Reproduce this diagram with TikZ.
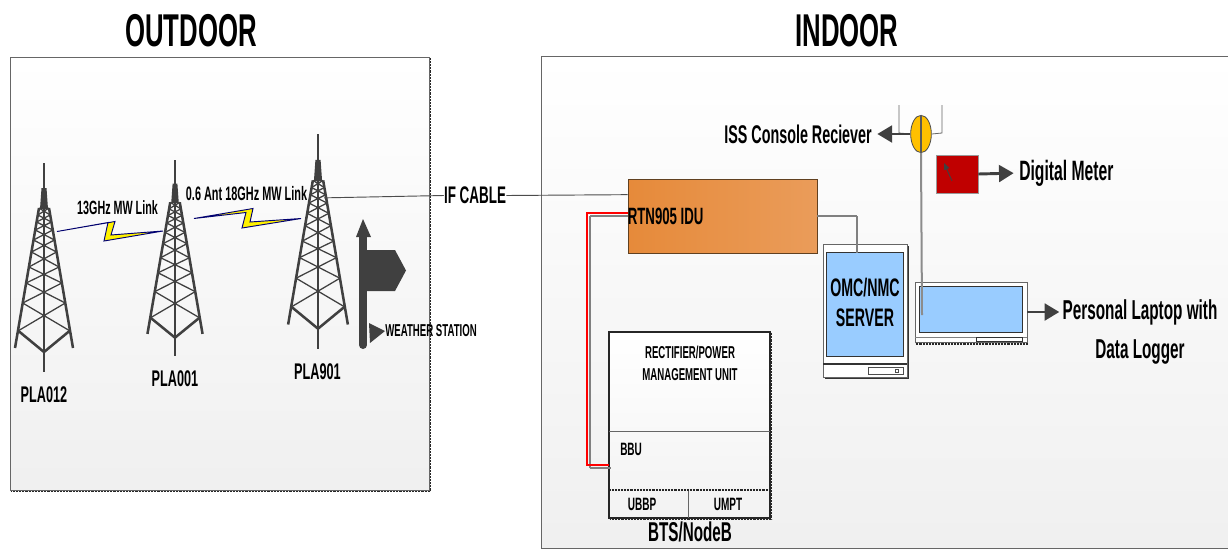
\documentclass[tikz,border=0pt]{standalone}
\usepackage{fontspec}
\setmainfont[FakeStretch=0.56]{Liberation Sans}
\usetikzlibrary{fit,arrows.meta,shapes.geometric}
\definecolor{dk}{HTML}{404040}
\definecolor{scrblue}{HTML}{99CCFF}
\definecolor{iduL}{HTML}{E68A3A}
\definecolor{iduR}{HTML}{EA9C5A}
\definecolor{amber}{HTML}{FFC000}
\definecolor{meter}{HTML}{C00000}
\definecolor{redline}{HTML}{FF0000}
\tikzset{
  x=0.75pt,y=-0.75pt,
  tx/.style={inner sep=0pt,align=center,text=black,font=\bfseries\fontsize{#1}{#1}\selectfont},
  frame/.style={inner sep=0pt,draw=#1,line width=0.6pt},
  panel/.style={frame=dk!80,top color=white,bottom color=black!6},
  dots/.style={draw=black!85,line width=1.1pt,dash pattern=on 0.7pt off 0.4pt},
  greydots/.style={draw=black!50,line width=0.8pt,dash pattern=on 1.2pt off 0.3pt},
  fatarrow/.style={draw=dk,line width=2.2pt,shorten >=4pt,-{Triangle[length=11pt,width=12.5pt,fill=dk]}},
  bolt/.style={fill=yellow,draw=blue!45!black,line width=0.7pt,line join=miter},
  tower/.pic={
    \coordinate (-port) at (6,62);
    \draw[dk,line width=1.5pt] (0,0) -- (0,209);
    \fill[dk] (-2.5,25) -- (2.5,25) -- (4,46) -- (-4,46) -- cycle;
    \draw[dk,line width=1.9pt,line join=round] (-5,45) -- (-29,185) (5,45) -- (29,185);
    \draw[dk,line width=1.9pt,line join=round] (-25.5,168) -- (0,189) -- (25.5,168);
    \foreach \a/\b in {45/52,52/59,59/67,67/77,77/89,89/104,104/120,120/140,140/168}{
      \pgfmathsetmacro\xa{5+24*(\a-45)/140}
      \pgfmathsetmacro\xb{5+24*(\b-45)/140}
      \draw[dk,line width=0.95pt] (-\xa,\a) -- (\xb,\b) (\xa,\a) -- (-\xb,\b);
    }
  }
}
\begin{document}
\begin{tikzpicture}
\useasboundingbox (0,0) rectangle (1228,550);
% panels
\node[fit={(10,57)(429,490)},panel] (outdoor) {};
\draw[dots] ([shift={(1.2,1.2)}]outdoor.north east) -- ([shift={(1.2,1.2)}]outdoor.south east) -- ([shift={(1.2,1.2)}]outdoor.south west);
\node[fit={(541,56)(1240,548)},panel] (indoor) {};
\node[tx=34.5] (ttlo) at (191,31) {OUTDOOR};
\node[tx=34.5] (ttli) at (847,31) {INDOOR};
% towers
\pic (t1) at (44,163) {tower};
\pic (t2) at (175,160) [xscale=0.95,yscale=0.94] {tower};
\pic (t3) at (318,134) [xscale=1.03,yscale=1.03] {tower};
\node[tx=17] (n1) at (44,395) {PLA012};
\node[tx=17] (n2) at (175,379) {PLA001};
\node[tx=17] (n3) at (317.5,372) {PLA901};
% links
\draw[bolt] (57,231.5) -- (115,221.5) -- (111,235) -- (163,231) -- (104,241) -- (108,222.5) -- cycle;
\draw[bolt] (194,218.5) -- (253,208.5) -- (250,222) -- (301,218.5) -- (242,228) -- (246,212.5) -- cycle;
\node[tx=14.4] (l1) at (117.5,208) {13GHz MW Link};
\node[tx=14.6] (l2) at (246.5,194) {0.6 Ant 18GHz MW Link};
% weather station
\draw[dk,line width=6pt,line cap=round] (363,237) -- (363,345);
\fill[dk] (363,219) -- (371,237) -- (356,237) -- cycle;
\fill[dk] (367,250) -- (395,250) -- (406,270.5) -- (395,291) -- (367,291) -- cycle;
\fill[dk] (369,323) -- (385,331) -- (370,343) -- cycle;
\node[tx=12.9,anchor=west] (ws) at (385,331) {WEATHER STATION};
% IDU
\node[fit={(628,179)(817,253)},frame=black!50!brown,left color=iduL,right color=iduR] (idu) {};
\node[tx=17.7,anchor=west] (idut) at (idu.west) {RTN905 IDU};
% IF cable
\node[tx=18] (ifc) at (475,195.5) {IF CABLE};
\draw[black!70,line width=0.7pt] (t3-port) -- (ifc.west);
\draw[black!70,line width=0.7pt] (ifc.east) -- ([yshift=16pt]idu.west);
% BTS
\node[fit={(609,332)(770,518)},frame=black!85,line width=0.8pt,top color=white,bottom color=black!5] (bts) {};
\draw[dots] ([shift={(1.2,1.2)}]bts.north east) -- ([shift={(1.2,1.2)}]bts.south east) -- ([shift={(1.2,1.2)}]bts.south west);
\coordinate (d1w) at (609,431); \coordinate (d1e) at (770,431);
\coordinate (d2w) at (609,490); \coordinate (d2e) at (770,490);
\coordinate (d3t) at (688,490); \coordinate (d3b) at (688,518);
\draw[black!60,line width=0.7pt] (d1w) -- (d1e);
\draw[black!60,line width=0.7pt] (d3t) -- (d3b);
\draw[dots,line width=0.9pt] (d2w) -- (d2e);
\node[tx=12.9] (rect) at (690,363) {RECTIFIER/POWER\\[3.6pt]MANAGEMENT UNIT};
\node[tx=13.4,anchor=west] (bbu) at (620,449) {BBU};
\node[tx=13.4] (ubbp) at (642,504) {UBBP};
\node[tx=13.4] (umpt) at (728,504) {UMPT};
\node[tx=20.4] (btsn) at (690,532) {BTS/NodeB};
% BTS to IDU
\coordinate (rr) at (587,465); \coordinate (gg) at (590,468);
\coordinate (re) at (609,465); \coordinate (ge) at (611,468);
\draw[greydots] (idu.west) -| (gg) -- (ge);
\draw[draw=redline,line width=0.9pt] ([yshift=2.3pt]idu.west) -| (rr) -- (re);
% server
\node[fit={(823,244)(907,377)},frame=black!60,fill=white] (srv) {};
\draw[black!80,line width=1.2pt] (825,378.5) -- (908.5,378.5) -- (908.5,246);
\node[fit={(826.5,252)(903,356)},frame=black!80,fill=scrblue] (scr) {};
\coordinate (sl) at (823,364); \coordinate (sr) at (907,364);
\draw[black!80,line width=1pt] (sl) -- (sr);
\node[fit={(868,367)(903,374)},frame=black!70,fill=white,line width=0.5pt] (slot) {};
\node[fit={(895,369)(898,372)},frame=black!70,fill=white,line width=0.5pt] (btn) {};
\node[tx=19] (omc) at (865,302.5) {OMC/NMC\\[4pt]SERVER};
% IDU to server
\coordinate (omcin) at (857,253);
\draw[greydots] (idu.east) -| (omcin);
% laptop
\node[fit={(915,282)(1027,342)},frame=black!60,fill=white] (lap) {};
\node[fit={(919,286)(1022,332)},frame=black!80,fill=scrblue] (lscr) {};
\coordinate (s1) at (915,337); \coordinate (s2) at (1027,337);
\draw[black!50,line width=0.5pt] (s1) -- (s2);
\node[fit={(976,337)(1022,341)},frame=black!80,fill=white,line width=0.5pt] (lslot) {};
\draw[dots,line width=1.4pt] (lap.south west) ++(1,2) -- ++(112,0);
% ISS splitter
\node[ellipse,inner sep=0pt,minimum width=15.5pt,minimum height=28pt,draw=black!70,fill=amber,line width=0.6pt] (spl) at (921,134) {};
\draw[black!65,line width=1.4pt] (spl.north) -- (spl.south);
\coordinate (al) at (899,105); \coordinate (ar) at (942,105);
\coordinate (bl) at (899,133); \coordinate (br) at (942,133);
\draw[black!60,line width=0.6pt] (al) -- (bl) -- (spl.west);
\draw[black!60,line width=0.6pt] (ar) -- (br) -- (spl.east);
\coordinate (lapin) at (922,315);
\draw[black!45,line width=1.5pt] (spl.south) -- (lapin);
\node[tx=19.2,anchor=east] (iss) at (872,134) {ISS Console Reciever};
\draw[fatarrow] (spl.west) -- (iss.east);
% meter
\node[fit={(936,155)(978,193)},frame=black!40,fill=meter] (mtr) {};
\coordinate (ma) at (952,181); \coordinate (mb) at (944,163);
\draw[dk,line width=0.7pt,-{Triangle[length=5pt,width=4pt]}] (ma) -- (mb);
\node[tx=21,anchor=west] (dm) at (1019,173) {Digital Meter};
\draw[fatarrow] (mtr.east) -- (dm.west);
% laptop label
\node[tx=20.5] (pl) at (1140,332) {Personal Laptop with\\[8.5pt]Data Logger};
\coordinate (plw) at (1062,312);
\draw[fatarrow,shorten >=2pt] (lap.east |- plw) -- (plw);
\end{tikzpicture}
\end{document}
